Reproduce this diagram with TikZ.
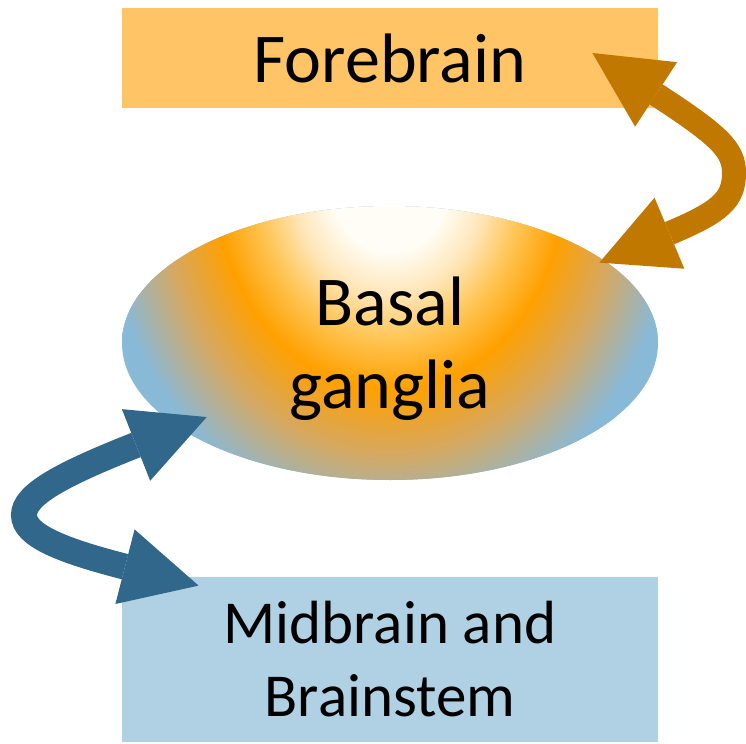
\documentclass[tikz,border=0pt]{standalone}
\usepackage{fontspec}
\setmainfont{Carlito}
\usetikzlibrary{shapes.geometric,arrows.meta,calc}

\definecolor{forecol}{RGB}{255,196,101}
\definecolor{midcol}{RGB}{176,208,227}
\definecolor{foreline}{RGB}{192,120,0}
\definecolor{midline}{RGB}{49,103,138}
\definecolor{bgwhite}{RGB}{255,253,245}
\definecolor{bgpale}{RGB}{255,230,185}
\definecolor{bglight}{RGB}{255,197,85}
\definecolor{bgorange}{RGB}{255,160,0}
\definecolor{bgtan}{RGB}{214,168,96}
\definecolor{bgblue}{RGB}{136,185,215}
\pgfdeclareradialshading{bgfill}{\pgfpointorigin}{color(0bp)=(bgwhite); color(5bp)=(bgwhite); color(8bp)=(bgpale); color(11bp)=(bglight); color(14.5bp)=(bgorange); color(19bp)=(bgtan); color(24bp)=(bgblue); color(50bp)=(bgblue)}

\begin{document}
\begin{tikzpicture}[x=0.5pt, y=-0.5pt,
    >={Triangle[length=38pt,width=38.5pt,line width=0pt]},
    box/.style={rectangle, minimum width=268pt, inner sep=0pt},
    link/.style={<->, line width=12pt}]
    \useasboundingbox (0,0) rectangle (746,744);
    % Define nodes
    \node[box, fill=forecol, minimum height=50pt, font=\fontsize{35}{42}\selectfont] (fore) at (390,58) {Forebrain};
    \node[box, fill=midcol, minimum height=82.5pt, align=center, font=\fontsize{30.5}{36.5}\selectfont] (mid) at (390,659.5) {Midbrain and\\Brainstem};
    \node[ellipse, inner sep=0pt, minimum width=268pt, minimum height=137pt, fill=bgblue, align=center, font=\fontsize{35}{41.5}\selectfont,
        path picture={\shade[shading=bgfill] ([yshift=81.5pt]path picture bounding box.center) ellipse [x radius=150pt, y radius=180pt];}] (bg) at (390,343)
        {\raisebox{-11.75pt}[0pt][0pt]{Basal}\\\raisebox{-11.75pt}[0pt][0pt]{ganglia}};
    % Draw arrows
    \draw[link, foreline] ($(fore.east)+(-66,-5)$) .. controls (720,136) and (734,150) .. (734,173) .. controls (734,200) and (720,212) .. ($(bg.center)!0.975!(bg.21)$);
    \draw[link, midline, line width=13pt] ($(bg.center)!0.87!(bg.202)$) .. controls (60,475) and (24,495) .. (24,515) .. controls (24,535) and (60,550) .. ($(mid.north west)+(77,9)$);
\end{tikzpicture}
\end{document}
